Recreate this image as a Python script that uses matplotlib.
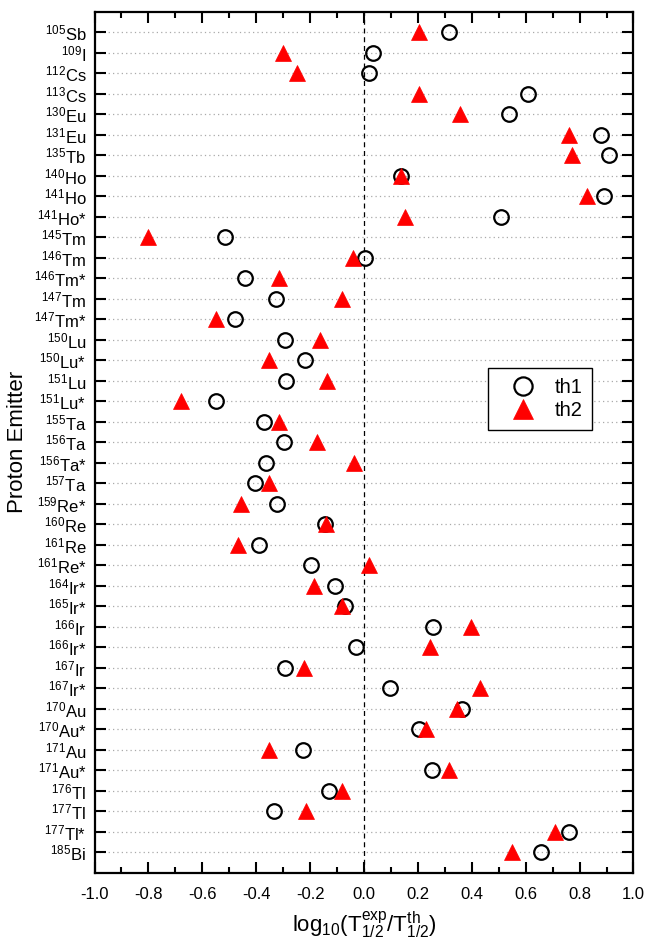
import matplotlib
matplotlib.use("Agg")
import matplotlib.pyplot as plt
from matplotlib.ticker import MultipleLocator

plt.rcParams['font.family'] = ['Liberation Sans', 'DejaVu Sans']
plt.rcParams['mathtext.fontset'] = 'custom'
plt.rcParams['mathtext.rm'] = 'Liberation Sans'
plt.rcParams['mathtext.it'] = 'Liberation Sans'
plt.rcParams['mathtext.bf'] = 'Liberation Sans:bold'

mass = [105, 109, 112, 113, 130, 131, 135, 140, 141, 141, 145, 146, 146, 147, 147,
        150, 150, 151, 151, 155, 156, 156, 157, 159, 160, 161, 161, 164, 165, 166,
        166, 167, 167, 170, 170, 171, 171, 176, 177, 177, 185]
element = ["Sb", "I", "Cs", "Cs", "Eu", "Eu", "Tb", "Ho", "Ho", "Ho*", "Tm", "Tm", "Tm*",
           "Tm", "Tm*", "Lu", "Lu*", "Lu", "Lu*", "Ta", "Ta", "Ta*", "Ta", "Re*", "Re",
           "Re", "Re*", "Ir*", "Ir*", "Ir", "Ir*", "Ir", "Ir*", "Au", "Au*", "Au", "Au*",
           "Tl", "Tl", "Tl*", "Bi"]

th1 = [0.317, 0.034, 0.017, 0.607, 0.537, 0.878, 0.910, 0.137, 0.891, 0.509, -0.515,
       0.002, -0.440, -0.328, -0.479, -0.293, -0.218, -0.290, -0.548, -0.370, -0.296,
       -0.362, -0.406, -0.321, -0.144, -0.390, -0.197, -0.106, -0.070, 0.257, -0.028,
       -0.292, 0.098, 0.363, 0.203, -0.228, 0.254, -0.129, -0.334, 0.761, 0.655]
th2 = [0.203, -0.301, -0.247, 0.203, 0.357, 0.760, 0.772, 0.137, 0.827, 0.151, -0.803,
       -0.041, -0.315, -0.081, -0.549, -0.162, -0.353, -0.136, -0.680, -0.317, -0.175,
       -0.037, -0.353, -0.457, -0.140, -0.468, 0.020, -0.187, -0.081, 0.396, 0.245,
       -0.223, 0.432, 0.345, 0.231, -0.351, 0.314, -0.081, -0.214, 0.708, 0.548]

xticks = [-1.0, -0.8, -0.6, -0.4, -0.2, 0.0, 0.2, 0.4, 0.6, 0.8, 1.0]
xticklabels = ["-1.0", "-0.8", "-0.6", "-0.4", "-0.2", "0.0", "0.2", "0.4",
               "0.6", "0.8", "1.0"]

labels = [r"$^{%d}$%s" % (m, e) for m, e in zip(mass, element)]
ypos = list(range(len(labels)))

fig = plt.figure(figsize=(6.59, 9.44), dpi=100)
ax = fig.add_axes([0.1434, 0.0755, 0.8179, 0.9121])

ax.axvline(0, color='black', lw=0.9, ls=(0, (4, 3)), zorder=1)

ax.plot(th1, ypos, ls='none', marker='o', ms=10.5, mfc='none', mec='black', mew=1.6,
        label='th1', zorder=3)
ax.plot(th2, ypos, ls='none', marker='^', ms=11.5, mfc='red', mec='red', mew=0.5,
        label='th2', zorder=4)

ax.set_xlim(-1.0, 1.0)
ax.set_ylim(len(labels), -1)
ax.set_yticks(ypos)
ax.set_yticklabels(labels, fontsize=12)
ax.xaxis.set_minor_locator(MultipleLocator(0.1))
ax.set_xticks(xticks)
ax.set_xticklabels(xticklabels, fontsize=12)

ax.tick_params(axis='x', which='major', direction='in', top=True, bottom=True,
               length=8, width=1.5, pad=10)
ax.tick_params(axis='x', which='minor', direction='in', top=True, bottom=True,
               length=4, width=1.5)
ax.tick_params(axis='y', which='major', direction='in', left=True, right=True,
               length=8, width=1.5, pad=6)

ax.grid(axis='y', color='#aaaaaa', ls=(0, (1, 2.5)), lw=0.9, zorder=0)

for s in ax.spines.values():
    s.set_linewidth(1.6)

ax.set_xlabel(r"log$_{10}$(T$^{exp}_{1/2}$/T$^{th}_{1/2}$)", fontsize=16, labelpad=6)
ax.set_ylabel("Proton Emitter", fontsize=16, labelpad=4)

leg = ax.legend(loc='upper left', bbox_to_anchor=(0.730, 0.586), borderaxespad=0,
                fontsize=14.5, frameon=True, fancybox=False, edgecolor='black',
                framealpha=1, handlelength=2.5, handletextpad=0.3, borderpad=0.5,
                labelspacing=0.2, markerscale=1.25)
leg.get_frame().set_linewidth(1.0)

fig.savefig("out.png", dpi=100)
